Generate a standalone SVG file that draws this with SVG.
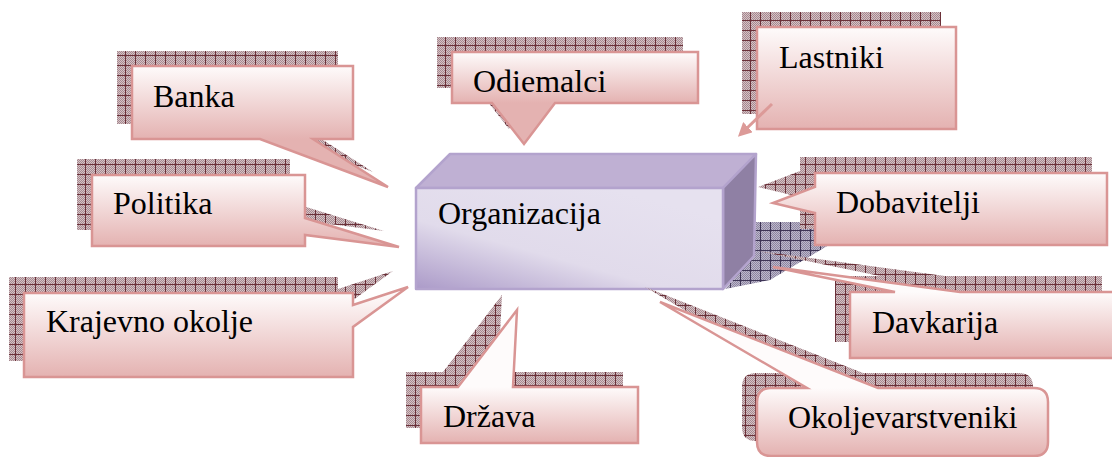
<svg xmlns="http://www.w3.org/2000/svg" width="1112" height="457" viewBox="0 0 1112 457">
  <defs>
    <!-- fine checker used inside the hatched shadow tiles -->
    <pattern id="chkRed" width="2" height="2" patternUnits="userSpaceOnUse">
      <rect width="2" height="2" fill="#d6c2c4"/>
      <rect width="1" height="1" fill="#a58991"/>
      <rect x="1" y="1" width="1" height="1" fill="#a58991"/>
    </pattern>
    <pattern id="shadowRed" width="10" height="10" patternUnits="userSpaceOnUse">
      <rect width="10" height="10" fill="url(#chkRed)"/>
      <path d="M0,0.5 H10 M0.5,0 V10" stroke="#6b3139" stroke-width="1" fill="none"/>
    </pattern>
    <pattern id="chkBlue" width="2" height="2" patternUnits="userSpaceOnUse">
      <rect width="2" height="2" fill="#bdb8ca"/>
      <rect width="1" height="1" fill="#8d85a2"/>
      <rect x="1" y="1" width="1" height="1" fill="#8d85a2"/>
    </pattern>
    <pattern id="shadowBlue" width="10" height="10" patternUnits="userSpaceOnUse">
      <rect width="10" height="10" fill="url(#chkBlue)"/>
      <path d="M0,0.5 H10 M0.5,0 V10" stroke="#3e3556" stroke-width="1" fill="none"/>
    </pattern>

    <!-- pink callout fill, one vertical ramp per box -->
    <linearGradient id="pink" x1="0" y1="0" x2="0" y2="1">
      <stop offset="0" stop-color="#fefbfb"/>
      <stop offset="1" stop-color="#e4b2b1"/>
    </linearGradient>
    <linearGradient id="gBanka" href="#pink" gradientUnits="userSpaceOnUse" x1="0" y1="66" x2="0" y2="139"/>
    <linearGradient id="gOdiem" href="#pink" gradientUnits="userSpaceOnUse" x1="0" y1="52" x2="0" y2="103"/>
    <linearGradient id="gLast" href="#pink" gradientUnits="userSpaceOnUse" x1="0" y1="27" x2="0" y2="129"/>
    <linearGradient id="gDob" href="#pink" gradientUnits="userSpaceOnUse" x1="0" y1="173" x2="0" y2="245"/>
    <linearGradient id="gPol" href="#pink" gradientUnits="userSpaceOnUse" x1="0" y1="175" x2="0" y2="246"/>
    <linearGradient id="gKraj" href="#pink" gradientUnits="userSpaceOnUse" x1="0" y1="293" x2="0" y2="377"/>
    <linearGradient id="gDav" href="#pink" gradientUnits="userSpaceOnUse" x1="0" y1="292" x2="0" y2="358"/>
    <linearGradient id="gDrz" href="#pink" gradientUnits="userSpaceOnUse" x1="0" y1="387" x2="0" y2="443"/>
    <linearGradient id="gOkol" href="#pink" gradientUnits="userSpaceOnUse" x1="0" y1="388" x2="0" y2="456"/>

    <!-- front face of the central block -->
    <linearGradient id="front" x1="0" y1="1" x2="0.75" y2="0.1">
      <stop offset="0" stop-color="#ab9ac8"/>
      <stop offset="0.45" stop-color="#e1dbeb"/>
      <stop offset="1" stop-color="#e6e1ef"/>
    </linearGradient>

    <marker id="arrow" viewBox="0 0 10 10" refX="3" refY="5" markerWidth="14" markerHeight="14" markerUnits="userSpaceOnUse" orient="auto">
      <path d="M0,0 L10,5 L0,10 Z" fill="#dc9a98"/>
    </marker>

    <style>
      .shadow { fill: url(#shadowRed); }
      .callout { stroke: #d99594; stroke-width: 2.5; stroke-linejoin: miter; }
      .label { font-size: 32px; fill: #000; }
      .face { stroke: #b3a3cd; stroke-width: 2.5; stroke-linejoin: round; }
    </style>
  </defs>

  <rect width="1112" height="457" fill="#ffffff"/>

  <g font-family="'Liberation Serif', 'DejaVu Serif', serif">
  <!-- central block and its cast shadow -->
  <g id="organizacija">
    <polygon points="756,222 824,222 834,242 770,280 725,289 753,257" fill="url(#shadowBlue)"/>
    <polygon class="face" points="416,188 450,154 756,154 723,188" fill="#bfb0d3"/>
    <polygon class="face" points="723,188 756,154 754,256 723,289" fill="#8f80a4"/>
    <rect class="face" x="416" y="188" width="307" height="101" fill="url(#front)"/>
    <text class="label" x="438" y="224">Organizacija</text>
  </g>

  <g id="banka">
    <path class="shadow" transform="translate(-15,-15)" d="M132,66 H353 V139 H313 L388,187 L260,139 H132 Z"/>
    <path class="callout" fill="url(#gBanka)" d="M132,66 H353 V139 H313 L388,187 L260,139 H132 Z"/>
    <text class="label" x="153" y="107">Banka</text>
  </g>

  <g id="odiemalci">
    <path class="shadow" transform="translate(-15,-15)" d="M452,52 H698 V103 H555 L524,144 L492,103 H452 Z"/>
    <path class="callout" fill="url(#gOdiem)" d="M452,52 H698 V103 H555 L524,144 L492,103 H452 Z"/>
    <text class="label" x="473" y="92">Odiemalci</text>
  </g>

  <g id="lastniki">
    <rect class="shadow" x="742" y="12" width="199" height="102"/>
    <rect class="callout" fill="url(#gLast)" x="757" y="27" width="199" height="102"/>
    <text class="label" x="779" y="68">Lastniki</text>
  </g>

  <g id="dobavitelji">
    <path class="shadow" transform="translate(-15,-16)" d="M815,173 H1107 V245 H815 V213 L773,203 L815,187 Z"/>
    <path class="callout" fill="url(#gDob)" d="M815,173 H1107 V245 H815 V213 L773,203 L815,187 Z"/>
    <text class="label" x="836" y="213">Dobavitelji</text>
  </g>

  <g id="politika">
    <path class="shadow" transform="translate(-15,-16)" d="M92,175 H305 V218 L399,247 L305,235 V246 H92 Z"/>
    <path class="callout" fill="url(#gPol)" d="M92,175 H305 V218 L399,247 L305,235 V246 H92 Z"/>
    <text class="label" x="113" y="214">Politika</text>
  </g>

  <g id="krajevno-okolje">
    <path class="shadow" transform="translate(-15,-16)" d="M24,293 H353 V305 L408,287 L353,327 V377 H24 Z"/>
    <path class="callout" fill="url(#gKraj)" d="M24,293 H353 V305 L408,287 L353,327 V377 H24 Z"/>
    <text class="label" x="46" y="332">Krajevno okolje</text>
  </g>

  <g id="davkarija">
    <path class="shadow" transform="translate(-15,-16)" d="M850,292 H895 L773,267 L960,292 H1117 V358 H850 Z"/>
    <path class="callout" fill="url(#gDav)" d="M850,292 H895 L773,267 L960,292 H1117 V358 H850 Z"/>
    <text class="label" x="872" y="333">Davkarija</text>
  </g>

  <g id="drzava">
    <path class="shadow" transform="translate(-15,-15)" d="M421,387 H458 L517,310 L513,387 H638 V443 H421 Z"/>
    <path class="callout" fill="url(#gDrz)" d="M421,387 H458 L517,310 L513,387 H638 V443 H421 Z"/>
    <text class="label" x="443" y="427">Država</text>
  </g>

  <g id="okoljevarstveniki">
    <path class="shadow" transform="translate(-15,-15)" d="M771,388 H807 L660,302 L878,388 H1034 Q1048,388 1048,402 V442 Q1048,456 1034,456 H771 Q757,456 757,442 V402 Q757,388 771,388 Z"/>
    <path class="callout" fill="url(#gOkol)" d="M771,388 H807 L660,302 L878,388 H1034 Q1048,388 1048,402 V442 Q1048,456 1034,456 H771 Q757,456 757,442 V402 Q757,388 771,388 Z"/>
    <text class="label" x="788" y="428">Okoljevarstveniki</text>
  </g>
  </g>

  <!-- connectors -->
  <g id="connectors">
    <line x1="772" y1="104" x2="745" y2="130" stroke="#dc9a98" stroke-width="3" marker-end="url(#arrow)"/>
  </g>
</svg>
